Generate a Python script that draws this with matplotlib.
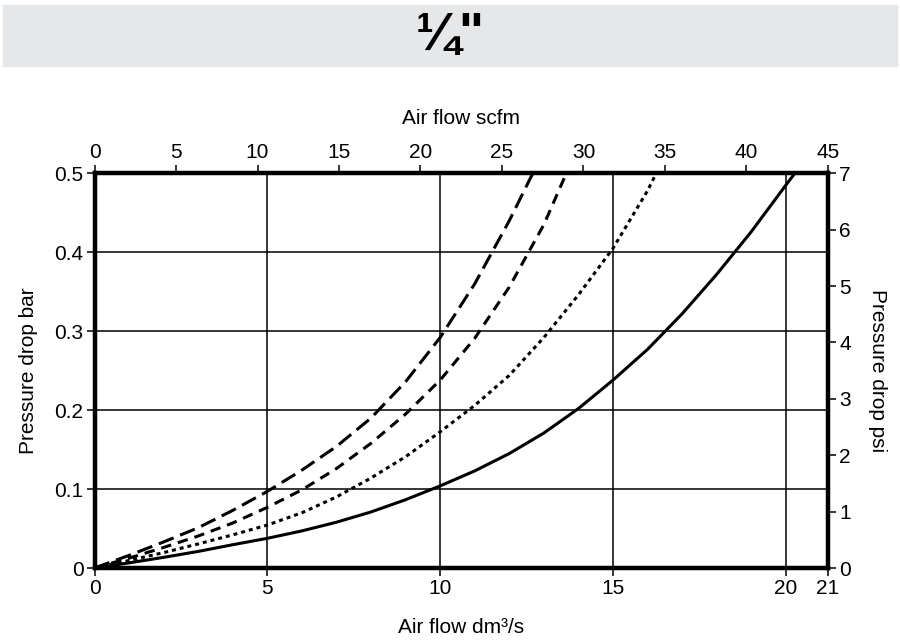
import matplotlib
matplotlib.use("Agg")
import matplotlib.pyplot as plt
from matplotlib.patches import Rectangle

plt.rcParams['font.family'] = ['Liberation Sans', 'DejaVu Sans']

# values (x = air flow dm3/s, y = pressure drop bar)
x_solid = [0, 1, 2, 3, 4, 5, 6, 7, 8, 9, 10, 11, 12, 13, 14, 15, 16, 17, 18, 19, 20, 20.26]
y_solid = [0, 0.0065, 0.0135, 0.021, 0.0295, 0.0376, 0.047, 0.058, 0.071, 0.0865, 0.104,
           0.123, 0.145, 0.171, 0.202, 0.238, 0.277, 0.322, 0.372, 0.426, 0.485, 0.5]

x_dotted = [0, 1, 2, 3, 4, 5, 6, 7, 8, 9, 10, 11, 12, 13, 14, 15, 16, 16.25]
y_dotted = [0, 0.0095, 0.0195, 0.0305, 0.042, 0.0544, 0.070, 0.090, 0.114, 0.141, 0.1725,
            0.206, 0.244, 0.292, 0.346, 0.405, 0.478, 0.5]

x_short = [0, 1, 2, 3, 4, 5, 6, 7, 8, 9, 10, 11, 12, 13, 13.65]
y_short = [0, 0.0125, 0.026, 0.0405, 0.057, 0.0768, 0.099, 0.126, 0.158, 0.195, 0.238,
           0.291, 0.356, 0.435, 0.5]

x_long = [0, 1, 2, 3, 4, 5, 6, 7, 8, 9, 10, 11, 12, 12.68]
y_long = [0, 0.016, 0.033, 0.051, 0.073, 0.097, 0.124, 0.154, 0.190, 0.236, 0.292,
          0.360, 0.44, 0.5]

x_ticks = [0, 5, 10, 15, 20]
x_max = 21.22          # axis end, labelled "21"
scfm_ticks = [0, 5, 10, 15, 20, 25, 30, 35, 40, 45]
bar_ticks = [0, 0.1, 0.2, 0.3, 0.4, 0.5]
psi_ticks = [0, 1, 2, 3, 4, 5, 6, 7]

fs = 15

fig = plt.figure(figsize=(9, 6.41), dpi=100)

# grey title band
fig.patches.append(Rectangle((3 / 900, 1 - 66 / 641), 894 / 900, 61 / 641,
                             transform=fig.transFigure, color='#e6e7e8', zorder=0))
fig.text(0.5, 1 - 36 / 641, '\u00bc"', ha='center', va='center',
         fontsize=38, fontweight='bold')

ax = fig.add_axes([94.5 / 900, 1 - 568 / 641, (828 - 94.5) / 900, (568 - 173.3) / 641])

ax.plot(x_solid, y_solid, color='black', lw=2.2)
ax.plot(x_dotted, y_dotted, color='black', lw=2.2, dashes=(1.3, 1.3))
ax.plot(x_short, y_short, color='black', lw=2.2, dashes=(3.4, 2.3))
ax.plot(x_long, y_long, color='black', lw=2.2, dashes=(5.2, 2.3))

ax.set_xlim(0, x_max)
ax.set_ylim(0, 0.5)
ax.set_xticks(x_ticks + [x_max])
ax.set_xticklabels([str(t) for t in x_ticks] + ['21'])
ax.set_yticks(bar_ticks)
ax.set_yticklabels(['0', '0.1', '0.2', '0.3', '0.4', '0.5'])

for v in x_ticks[1:]:
    ax.axvline(v, color='black', lw=1.1, zorder=1)
for v in bar_ticks[1:-1]:
    ax.axhline(v, color='black', lw=1.1, zorder=1)

ax.set_xlabel('Air flow dm\u00b3/s', fontsize=fs, labelpad=14)
ax.set_ylabel('Pressure drop bar', fontsize=fs, labelpad=12)

ax_top = ax.twiny()
ax_top.set_xlim(0, 45)
ax_top.set_xticks(scfm_ticks)
ax_top.set_xlabel('Air flow scfm', fontsize=fs, labelpad=14)

ax_right = ax.twinx()
ax_right.set_ylim(0, 7)
ax_right.set_yticks(psi_ticks)
ax_right.set_ylabel('Pressure drop psi', fontsize=fs, rotation=-90, labelpad=26)

for a in (ax, ax_top, ax_right):
    for s in a.spines.values():
        s.set_linewidth(3)
    a.tick_params(direction='out', length=6, width=1.1, labelsize=fs, pad=2)

fig.savefig('out.png', dpi=100)
